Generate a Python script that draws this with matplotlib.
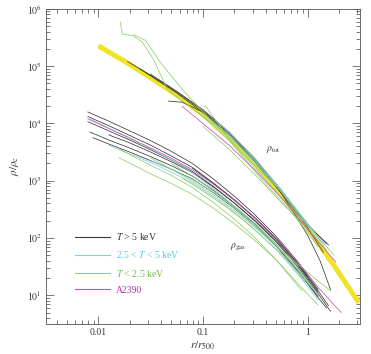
import numpy as np
import matplotlib
matplotlib.use('Agg')
import matplotlib.pyplot as plt
from matplotlib.ticker import LogLocator, NullFormatter, FixedLocator, FixedFormatter

plt.rcParams['font.family'] = ['Liberation Serif', 'DejaVu Serif']
plt.rcParams['mathtext.fontset'] = 'stix'

# NFW best fit (thick yellow), r/r500 vs rho/rho_c
nfw_x = [0.01, 0.0178, 0.0316, 0.0562, 0.1, 0.178, 0.316, 0.562, 1.0, 1.78, 3.09]
nfw_y = [2.26e5, 1.22e5, 6.3e4, 3.13e4, 1.42e4, 5.74e3, 2.0e3, 590, 150, 33.6, 7.4]

# individual profiles, stored as (log10 r/r500, log10 rho/rho_c)
tot_hot = [
    ([-1.72, -1.5, -1.25, -1, -0.75, -0.5, -0.25, 0, 0.2], [5.08, 4.84, 4.55, 4.22, 3.83, 3.36, 2.80, 2.22, 1.88]),
    ([-1.33, -1.2, -1.0, -0.75, -0.5, -0.25, 0, 0.12, 0.22], [4.39, 4.37, 4.2, 3.80, 3.33, 2.78, 2.05, 1.6, 1.10]),
    ([-1.6, -1.25, -1, -0.75, -0.5, -0.25, 0, 0.15], [4.95, 4.53, 4.19, 3.80, 3.32, 2.78, 2.18, 1.75]),
    ([-1.5, -1.25, -1, -0.75, -0.5, -0.25, 0, 0.18], [4.86, 4.56, 4.24, 3.85, 3.38, 2.83, 2.24, 1.9]),
]
tot_mid = [
    ([-0.88, -0.75, -0.5, -0.25, 0, 0.18], [4.05, 3.85, 3.38, 2.84, 2.25, 1.80]),
    ([-0.95, -0.75, -0.5, -0.25, 0, 0.1], [4.1, 3.80, 3.30, 2.80, 2.2, 1.95]),
    ([-1.05, -0.75, -0.5, -0.25, 0, 0.15], [4.2, 3.78, 3.33, 2.82, 2.23, 1.9]),
]
tot_cool = [
    ([-1.79, -1.77, -1.665, -1.58, -1.47, -1.34, -1.12, -1, -0.75, -0.5, -0.25, -0.05],
     [5.77, 5.56, 5.53, 5.42, 5.11, 4.59, 4.29, 4.12, 3.70, 3.22, 2.70, 2.3]),
    ([-1.66, -1.55, -1.4, -1.2, -1, -0.75, -0.5, -0.3], [5.55, 5.45, 5.05, 4.60, 4.20, 3.74, 3.25, 2.9]),
    ([-0.997, -0.97, -0.7, -0.43, -0.2, 0, 0.1], [4.3, 4.29, 3.6, 3.0, 2.55, 2.1, 1.85]),
    ([-1.0, -0.75, -0.5, -0.25, -0.05], [3.95, 3.55, 3.10, 2.62, 2.25]),
    ([-0.6, -0.4, -0.2, 0, 0.25], [3.55, 3.15, 2.7, 2.25, 1.7]),
]
tot_a2390 = [
    ([-1.2, -1, -0.75, -0.5, -0.25, 0, 0.27], [4.3, 4.0, 3.62, 3.18, 2.70, 2.15, 1.58]),
]

gas_hot = [
    ([-2.1, -1.9, -1.7, -1.5, -1.3, -1.1, -0.9, -0.7, -0.5, -0.3, -0.1, 0.1],
     [4.20, 4.04, 3.87, 3.70, 3.51, 3.30, 3.03, 2.73, 2.40, 2.03, 1.60, 1.10]),
    ([-2.1, -1.9, -1.7, -1.5, -1.3, -1.1, -0.9, -0.7, -0.5, -0.3, -0.1, 0.1, 0.22],
     [4.03, 3.87, 3.71, 3.54, 3.36, 3.16, 2.90, 2.61, 2.29, 1.93, 1.51, 1.03, 0.72]),
    ([-2.08, -1.9, -1.7, -1.5, -1.3, -1.1, -0.9, -0.7, -0.5, -0.3, -0.1, 0.1],
     [3.85, 3.71, 3.57, 3.42, 3.26, 3.08, 2.83, 2.55, 2.24, 1.88, 1.46, 0.98]),
    ([-2.05, -1.9, -1.7, -1.5, -1.3, -1.1, -0.9, -0.7, -0.5, -0.3, -0.1, 0.1, 0.18],
     [3.75, 3.64, 3.50, 3.35, 3.20, 3.03, 2.79, 2.52, 2.21, 1.86, 1.44, 0.96, 0.78]),
    ([-1.9, -1.7, -1.5, -1.3, -1.1, -0.9, -0.7, -0.5, -0.3, -0.1, 0.1],
     [3.80, 3.66, 3.50, 3.33, 3.14, 2.89, 2.61, 2.30, 1.95, 1.54, 1.06]),
    ([-2.1, -1.9, -1.7, -1.5, -1.3, -1.1, -0.9, -0.7, -0.5, -0.3, -0.1, 0.0],
     [4.12, 3.96, 3.79, 3.62, 3.43, 3.23, 2.96, 2.67, 2.35, 1.99, 1.57, 1.33]),
    ([-1.1, -0.9, -0.7, -0.5, -0.3, -0.1, 0.1, 0.2],
     [3.22, 2.95, 2.66, 2.34, 1.98, 1.56, 1.08, 0.82]),
]
gas_mid = [
    ([-2.08, -1.9, -1.7, -1.5, -1.3, -1.1, -0.9, -0.7, -0.5, -0.3, -0.1, -0.02],
     [4.08, 3.92, 3.75, 3.56, 3.36, 3.14, 2.86, 2.55, 2.21, 1.84, 1.40, 1.22]),
    ([-1.9, -1.7, -1.5, -1.3, -1.1, -0.9, -0.7, -0.5, -0.3, -0.1, 0.1],
     [3.62, 3.47, 3.32, 3.15, 2.96, 2.72, 2.45, 2.14, 1.80, 1.38, 0.92]),
    ([-1.5, -1.3, -1.1, -0.9, -0.7, -0.5, -0.3, -0.1, 0.1],
     [3.35, 3.20, 3.02, 2.80, 2.53, 2.22, 1.88, 1.47, 1.00]),
]
gas_cool = [
    ([-1.8, -1.5, -1.3, -1.1, -0.9, -0.7, -0.5, -0.3, -0.1, 0.1],
     [3.40, 3.12, 2.95, 2.76, 2.52, 2.25, 1.95, 1.62, 1.22, 0.83]),
    ([-1.8, -1.5, -1.3, -1.1, -0.9, -0.7, -0.5, -0.3, -0.1, -0.05],
     [3.55, 3.27, 3.09, 2.88, 2.62, 2.33, 2.00, 1.62, 1.18, 1.08]),
    ([-1.5, -1.3, -1.1, -0.9, -0.7, -0.5, -0.3, -0.1, 0.1, 0.22],
     [3.40, 3.20, 2.99, 2.75, 2.48, 2.18, 1.86, 1.55, 1.25, 1.08]),
    ([-1.3, -1.1, -0.9, -0.7, -0.5, -0.3, -0.1, 0.1],
     [3.30, 3.08, 2.84, 2.56, 2.25, 1.89, 1.46, 1.00]),
    ([-1.2, -1.0, -0.8, -0.6, -0.4, -0.2, 0.0, 0.05],
     [3.05, 2.82, 2.57, 2.29, 1.97, 1.62, 1.22, 1.12]),
]
gas_a2390 = [
    ([-2.1, -1.9, -1.7, -1.5, -1.3, -1.1, -0.9, -0.7, -0.5, -0.3, -0.1, 0.1, 0.32],
     [4.08, 3.91, 3.74, 3.57, 3.39, 3.19, 2.94, 2.66, 2.35, 2.00, 1.60, 1.14, 0.70]),
]

c_hot = '#3a3a3a'
c_mid = '#7fd0e8'
c_cool = '#8fd06a'
c_a2390 = '#c850b4'

fig = plt.figure(figsize=(3.71, 3.54), dpi=100)
ax = fig.add_axes([0.124, 0.085, 0.846, 0.89])

ax.plot(nfw_x, nfw_y, color='#f0e225', lw=3.6, solid_capstyle='butt', zorder=2)

groups = [(tot_hot + gas_hot, c_hot), (tot_mid + gas_mid, c_mid),
          (tot_cool + gas_cool, c_cool), (tot_a2390 + gas_a2390, c_a2390)]
for lines, col in groups:
    for lx, ly in lines:
        ax.plot(10 ** np.array(lx), 10 ** np.array(ly), color=col, lw=0.55, zorder=3)

ax.set_xscale('log')
ax.set_yscale('log')
ax.set_xlim(10 ** -2.5, 10 ** 0.5)
ax.set_ylim(10 ** 0.5, 1e6)

ax.xaxis.set_major_locator(FixedLocator([0.01, 0.1, 1]))
ax.xaxis.set_major_formatter(FixedFormatter(['0.01', '0.1', '1']))
ax.xaxis.set_minor_locator(LogLocator(base=10, subs=np.arange(2, 10), numticks=20))
ax.xaxis.set_minor_formatter(NullFormatter())
ax.yaxis.set_major_locator(FixedLocator([10, 1e2, 1e3, 1e4, 1e5, 1e6]))
ax.yaxis.set_major_formatter(FixedFormatter([r'$10^1$', r'$10^2$', r'$10^3$', r'$10^4$', r'$10^5$', r'$10^6$']))
ax.yaxis.set_minor_locator(LogLocator(base=10, subs=np.arange(2, 10), numticks=20))
ax.yaxis.set_minor_formatter(NullFormatter())

ax.tick_params(which='both', direction='in', top=True, right=True, width=0.5, colors='#444444',
               labelsize=7, labelcolor='#333333', pad=3)
ax.tick_params(which='major', length=5.5)
ax.tick_params(which='minor', length=2.8)
for s in ax.spines.values():
    s.set_linewidth(0.6)
    s.set_color('#555555')

ax.set_xlabel(r'$r/r_{500}$', fontsize=8, labelpad=2, color='#333333')
ax.set_ylabel(r'$\rho/\rho_{\rm c}$', fontsize=8, labelpad=4, color='#333333')

ax.text(0.40, 3.3e3, r'$\rho_{\rm tot}$', fontsize=7, color='#333333')
ax.text(0.18, 65, r'$\rho_{\rm gas}$', fontsize=7, color='#333333')

leg_labels = [r'$T$ > 5 keV', r'2.5 < $T$ < 5 keV', r'$T$ < 2.5 keV', 'A2390']
leg_colors = [c_hot, c_mid, c_cool, c_a2390]
leg_text_colors = ['#333333', '#5bc4e0', '#6cc040', '#b8309e']
handles = [plt.Line2D([], [], color=c, lw=0.8) for c in leg_colors]
leg = ax.legend(handles, leg_labels, loc='lower left', bbox_to_anchor=(0.08, 0.08),
                frameon=False, fontsize=7, handlelength=3.6, handletextpad=0.6,
                labelspacing=0.75, borderaxespad=0)
for t, c in zip(leg.get_texts(), leg_text_colors):
    t.set_color(c)

fig.savefig('out.png', dpi=100)
